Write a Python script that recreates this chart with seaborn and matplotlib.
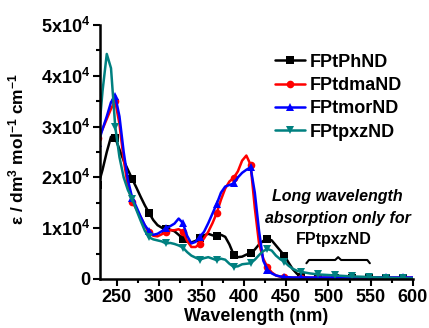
import numpy as np
import pandas as pd
import matplotlib
matplotlib.use("Agg")
import matplotlib.pyplot as plt
import seaborn as sns
from matplotlib.ticker import FixedLocator, MultipleLocator, FixedFormatter

sns.set_theme(style="ticks")
plt.rcParams["font.family"] = ["Liberation Sans", "DejaVu Sans"]
plt.rcParams["font.weight"] = "bold"
plt.rcParams["text.color"] = "black"
plt.rcParams["axes.labelcolor"] = "black"
plt.rcParams["xtick.color"] = "black"
plt.rcParams["ytick.color"] = "black"
plt.rcParams["axes.edgecolor"] = "black"
plt.rcParams["mathtext.fontset"] = "custom"
plt.rcParams["mathtext.rm"] = "Liberation Sans:bold"
plt.rcParams["mathtext.it"] = "Liberation Sans:bold:italic"
plt.rcParams["mathtext.bf"] = "Liberation Sans:bold"
plt.rcParams["mathtext.default"] = "rm"

# ---------------- data ----------------
wavelength = [228, 233, 238, 243, 248, 253, 258, 263, 268, 273, 278, 283, 288, 293, 298,
              303, 308, 313, 318, 323, 328, 333, 338, 343, 348, 353, 358, 363, 368, 373,
              378, 383, 388, 393, 398, 403, 408, 413, 418, 423, 428, 433, 438, 443, 448,
              453, 458, 463, 468, 478, 488, 498, 508, 518, 528, 538, 548, 558, 568, 578,
              588, 598, 603]

FPtPhND = [18500, 21500, 25000, 28000, 27800, 25500, 23300, 21500, 19700, 18000, 16200, 14500,
           13000, 11600, 10600, 10100, 9800, 9700, 9400, 8700, 7900, 7400, 7200, 7500, 8100,
           8600, 8900, 8600, 8400, 8700, 8300, 6800, 4800, 4300, 4400, 4800, 5100, 5800, 6800,
           7500, 7900, 7600, 6600, 5600, 4600, 3200, 1900, 1000, 400, 150, 100, 100, 100, 100,
           100, 100, 100, 100, 100, 100, 100, 100, 100]

FPtdmaND = [27800, 29500, 31500, 33500, 35000, 30500, 23500, 18200, 15200, 13800, 12200, 10500,
            9200, 8500, 8400, 8800, 9300, 9600, 9600, 9800, 9300, 7500, 6300, 6300, 6900, 8000,
            9300, 11000, 13000, 15600, 17800, 19200, 19900, 21200, 23300, 24300, 22500, 14000,
            7000, 4000, 2300, 1300, 700, 450, 300, 250, 250, 250, 250, 250, 250, 250, 250, 250,
            250, 250, 250, 250, 250, 250, 250, 250, 250]

FPtmorND = [26800, 29500, 32000, 34800, 36000, 32000, 25000, 19500, 16000, 14200, 12300, 10600,
            9400, 8700, 8900, 9400, 10000, 10400, 10900, 11900, 11000, 8500, 7000, 7300, 8300,
            9300, 11000, 12900, 14800, 17000, 18200, 18500, 18800, 20000, 20900, 21500, 22000,
            17000, 9500, 3600, 1800, 1100, 700, 500, 400, 350, 300, 300, 300, 300, 300, 300,
            300, 300, 300, 300, 300, 300, 300, 300, 300, 300, 300]

FPtpxzND = [27500, 37000, 44300, 41500, 30000, 24000, 20000, 17500, 15800, 13600, 11500, 9500,
            8200, 7800, 7600, 7400, 7000, 7100, 6900, 6600, 6200, 5300, 4600, 4200, 3800, 4100,
            4300, 4000, 3700, 4000, 3800, 3000, 2400, 2500, 2900, 3000, 3100, 3800, 4700, 5500,
            5900, 5600, 4600, 3900, 3400, 2600, 2000, 1600, 1400, 1100, 900, 800, 700, 600, 500,
            450, 400, 300, 250, 200, 150, 120, 100]

series_names = ["FPtPhND", "FPtdmaND", "FPtmorND", "FPtpxzND"]
series_values = [FPtPhND, FPtdmaND, FPtmorND, FPtpxzND]
colors = ["#000000", "#FF0000", "#0000FF", "#008080"]
marker_styles = ["s", "o", "^", "v"]

ytick_values = [0, 10000, 20000, 30000, 40000, 50000]
ytick_labels = ["0", "1x10$^4$", "2x10$^4$", "3x10$^4$", "4x10$^4$", "5x10$^4$"]
xtick_values = [250, 300, 350, 400, 450, 500, 550, 600]

for v in series_values:
    assert len(v) == len(wavelength), (len(v), len(wavelength))

df = pd.concat(
    [pd.DataFrame({"wl": wavelength, "eps": v, "series": n}) for n, v in zip(series_names, series_values)],
    ignore_index=True,
)

mark_idx = [i for i, w in enumerate(wavelength) if (w - 228) % 20 == 0 and w <= 600]

# ---------------- figure ----------------
fig = plt.figure(figsize=(4.29, 3.28), dpi=100)
ax = fig.add_axes([0.2331, 0.1494, 0.7296, 0.7744])

sns.lineplot(
    data=df, x="wl", y="eps", hue="series", style="series",
    hue_order=series_names, style_order=series_names,
    palette=dict(zip(series_names, colors)),
    markers=dict(zip(series_names, marker_styles)),
    dashes=False, estimator=None, sort=False,
    linewidth=1.8, markersize=5.5, markeredgewidth=0,
    markevery=mark_idx, ax=ax, legend=True,
)

ax.set_xlim(230, 600)
ax.set_ylim(0, 50000)

ax.xaxis.set_major_locator(FixedLocator(xtick_values))
ax.xaxis.set_minor_locator(MultipleLocator(25))
ax.yaxis.set_major_locator(FixedLocator(ytick_values))
ax.yaxis.set_major_formatter(FixedFormatter(ytick_labels))
ax.yaxis.set_minor_locator(MultipleLocator(5000))

for s in ["top", "right"]:
    ax.spines[s].set_visible(False)
for s in ["left", "bottom"]:
    ax.spines[s].set_linewidth(1.8)
    ax.spines[s].set_color("black")

ax.tick_params(which="major", direction="out", length=5, width=1.5, labelsize=13, pad=2, colors="black")
ax.tick_params(which="minor", direction="out", length=3, width=1.5, colors="black")
for lab in ax.get_xticklabels() + ax.get_yticklabels():
    lab.set_fontweight("bold")
    lab.set_color("black")

ax.set_xlabel("Wavelength (nm)", fontsize=13, fontweight="bold", color="black")
ax.set_ylabel("ε / dm$^3$ mol$^{-1}$ cm$^{-1}$", fontsize=12.5, fontweight="bold", color="black")
ax.xaxis.set_label_coords(0.5, -0.115)
ax.yaxis.set_label_coords(-0.235, 0.51)

handles, labels = ax.get_legend_handles_labels()
leg = ax.legend(handles, labels, loc="upper left", bbox_to_anchor=(0.535, 0.915),
                frameon=False, handlelength=1.7, handletextpad=0.25, labelspacing=0.35,
                borderaxespad=0, prop={"size": 13, "weight": "bold"}, numpoints=1)
for h in leg.legend_handles:
    try:
        h.set_markersize(5.5)
    except AttributeError:
        pass
for t in leg.get_texts():
    t.set_color("black")

# annotation
ax.text(511, 16200, "Long wavelength", ha="center", va="center", fontsize=11.5,
        fontstyle="italic", fontweight="bold", color="black")
ax.text(511, 12000, "absorption only for", ha="center", va="center", fontsize=11.5,
        fontstyle="italic", fontweight="bold", color="black")
ax.text(506, 7700, "FPtpxzND", ha="center", va="center", fontsize=11.5, fontweight="bold",
        color="black")
brace_x = [474, 477, 508, 511.5, 515, 546, 549]
brace_y = [3100, 3740, 3740, 4300, 3740, 3740, 3100]
ax.plot(brace_x, brace_y, color="black", lw=1.5)

fig.savefig("out.png", dpi=100)
